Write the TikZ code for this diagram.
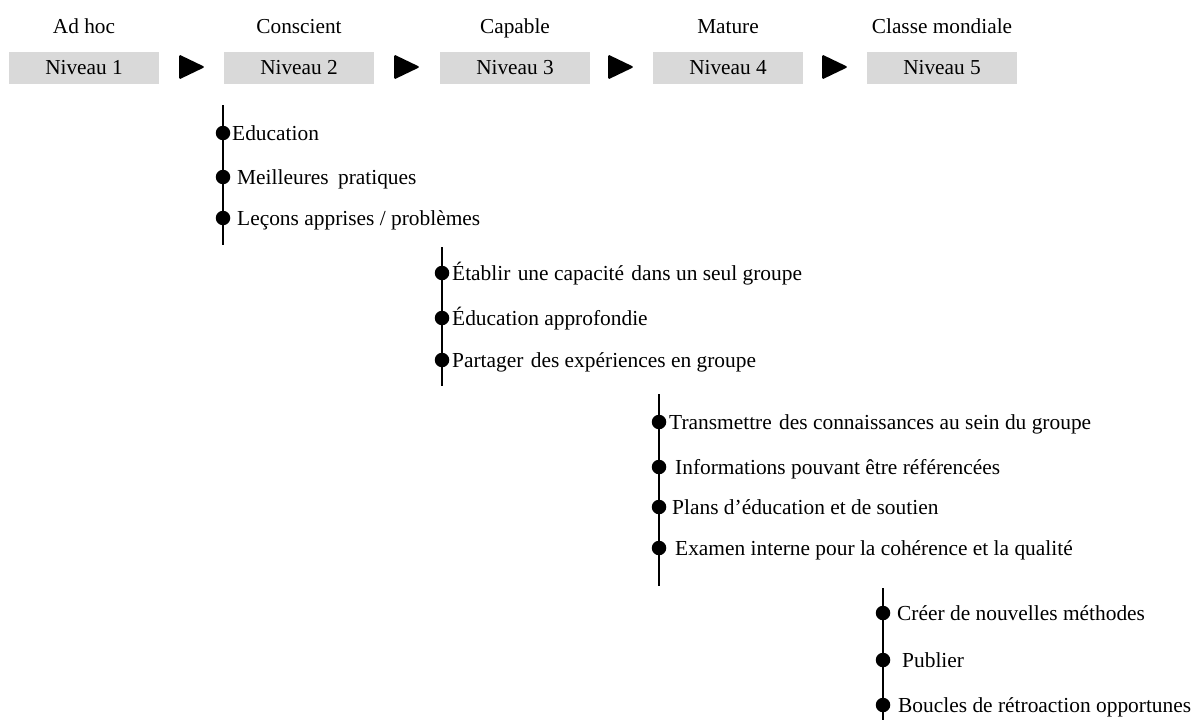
\documentclass[tikz,border=0pt]{standalone}
\usepackage{fontspec}
\setmainfont{Liberation Serif}
\begin{document}
\begin{tikzpicture}[x=1pt,y=-1pt,
  lvlbox/.style={fill=boxgray, draw=none, minimum width=150pt, minimum height=32pt, inner sep=0pt, font=\fontsize{21.3}{25}\selectfont},
  toplabel/.style={anchor=base, inner sep=0pt, font=\fontsize{21.3}{25}\selectfont},
  item/.style={anchor=base west, inner sep=0pt, font=\fontsize{21.4}{25}\selectfont},
  dot/.style={circle, fill=black, minimum size=14.5pt, inner sep=0pt},
  vline/.style={line width=1.8pt, black},
  tri/.style={fill=black, rounded corners=1.5pt}
]
\definecolor{boxgray}{HTML}{D9D9D9}
\useasboundingbox (0,0) rectangle (1196,720);

% level boxes
\node[lvlbox] (b1) at (84,67.5) {Niveau 1};
\node[lvlbox] (b2) at (299,67.5) {Niveau 2};
\node[lvlbox] (b3) at (515,67.5) {Niveau 3};
\node[lvlbox] (b4) at (728,67.5) {Niveau 4};
\node[lvlbox] (b5) at (942,67.5) {Niveau 5};

% top labels
\node[toplabel] (l1) at (84,33) {Ad hoc};
\node[toplabel] (l2) at (299,33) {Conscient};
\node[toplabel] (l3) at (515,33) {Capable};
\node[toplabel] (l4) at (728,33) {Mature};
\node[toplabel] (l5) at (942,33) {Classe mondiale};

% arrows between boxes
\fill[tri] (179,54.5) -- (179,79.5) -- (205,67) -- cycle;
\fill[tri] (394,54.5) -- (394,79.5) -- (420,67) -- cycle;
\fill[tri] (608,54.5) -- (608,79.5) -- (634,67) -- cycle;
\fill[tri] (822,54.5) -- (822,79.5) -- (848,67) -- cycle;

% Level 2 list
\coordinate (v2t) at (223,105);
\coordinate (v2b) at (223,245);
\draw[vline] (v2t) -- (v2b);
\node[dot] (d21) at (223,133) {};
\node[dot] (d22) at (223,177) {};
\node[dot] (d23) at (223,218) {};
\node[item] (t21) at (232,140) {Education};
\node[item] (t22) at (237,184) {Meilleures\hspace{4pt} pratiques};
\node[item] (t23) at (237,225) {Leçons apprises / problèmes};

% Level 3 list
\coordinate (v3t) at (442,247);
\coordinate (v3b) at (442,386);
\draw[vline] (v3t) -- (v3b);
\node[dot] (d31) at (442,273) {};
\node[dot] (d32) at (442,318) {};
\node[dot] (d33) at (442,360) {};
\node[item] (t31) at (452,280) {Établir\hspace{2pt} une capacité\hspace{2pt} dans un seul groupe};
\node[item] (t32) at (452,325) {Éducation approfondie};
\node[item] (t33) at (452,367) {Partager\hspace{2pt} des expériences en groupe};

% Level 4 list
\coordinate (v4t) at (659,394);
\coordinate (v4b) at (659,586);
\draw[vline] (v4t) -- (v4b);
\node[dot] (d41) at (659,422) {};
\node[dot] (d42) at (659,467) {};
\node[dot] (d43) at (659,507) {};
\node[dot] (d44) at (659,548) {};
\node[item] (t41) at (669,429) {Transmettre\hspace{2pt} des connaissances au sein du groupe};
\node[item] (t42) at (675,474) {Informations pouvant être référencées};
\node[item] (t43) at (672,514) {Plans d’éducation et de soutien};
\node[item] (t44) at (675,555) {Examen interne pour la cohérence et la qualité};

% Level 5 list
\coordinate (v5t) at (883,588);
\coordinate (v5b) at (883,720);
\draw[vline] (v5t) -- (v5b);
\node[dot] (d51) at (883,613) {};
\node[dot] (d52) at (883,660) {};
\node[dot] (d53) at (883,705) {};
\node[item] (t51) at (897,620) {Créer de nouvelles méthodes};
\node[item] (t52) at (902,667) {Publier};
\node[item] (t53) at (898,712) {Boucles de rétroaction opportunes};
\end{tikzpicture}
\end{document}
